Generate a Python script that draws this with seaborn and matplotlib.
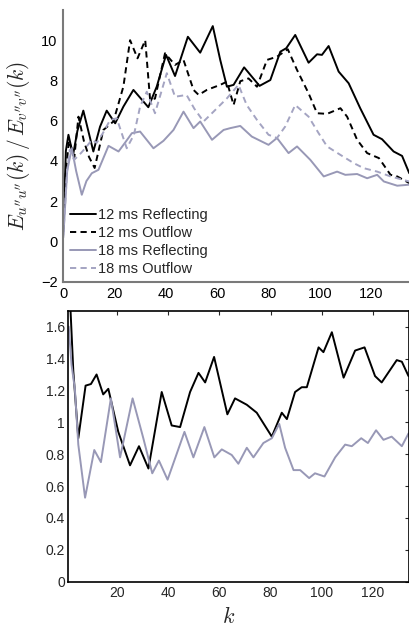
import numpy as np
import pandas as pd
import matplotlib
matplotlib.use("Agg")
import matplotlib.pyplot as plt
import seaborn as sns

# ---------------- data ----------------
labels = ["12 ms Reflecting", "12 ms Outflow", "18 ms Reflecting", "18 ms Outflow"]

# top panel: E_u''u''(k)/E_v''v''(k)
k12r = [0, 1, 2, 3.8, 5.5, 7.8, 11.7, 14.3, 16.9, 20.2, 23.4, 27.3, 33.1, 36.4, 40.0, 43.5,
        48.5, 53.3, 58.2, 61.1, 63.7, 66.3, 70.4, 76.4, 80.6, 84.5, 86.8, 90.3, 95.5, 98.8,
        100.7, 103.3, 107.2, 111.1, 115.6, 120.8, 124.1, 128.6, 131.9, 134.7]
v12r = [0.5, 4.5, 5.3, 4.3, 5.5, 6.5, 4.47, 5.7, 6.5, 5.87, 6.7, 7.53, 6.67, 7.7, 9.27, 8.22,
        10.17, 9.38, 10.7, 9.02, 7.69, 7.78, 8.65, 7.73, 8.02, 9.43, 9.6, 10.26, 8.88, 9.3,
        9.27, 9.71, 8.44, 7.86, 6.62, 5.3, 5.08, 4.47, 4.25, 3.39]

k12o = [0, 1, 2.2, 4.3, 5.9, 8, 10, 12.2, 15.6, 19.5, 23.4, 26.0, 28.9, 31.9, 33.8, 35.7,
        39.6, 43.5, 46.8, 50.7, 52.7, 55.9, 61.1, 63.7, 66.3, 68.9, 72.1, 75.4, 79.3, 83.2,
        87.4, 91.0, 95.5, 98.8, 102.7, 107.9, 110.5, 114.4, 118.3, 122.9, 127.4, 130, 134.7]
v12o = [1.0, 3.5, 5.0, 4.2, 6.2, 5.0, 4.2, 3.65, 5.54, 5.96, 7.7, 10.0, 9.1, 10.0, 7.03, 7.1,
        9.35, 8.77, 9.02, 7.53, 7.28, 7.53, 7.78, 7.94, 6.78, 7.96, 8.1, 7.69, 9.02, 9.18,
        9.55, 8.52, 7.36, 6.37, 6.34, 6.62, 6.2, 5.05, 4.39, 4.14, 3.31, 3.23, 2.9]

k18r = [0, 1.5, 3.3, 5, 7.2, 9, 11.1, 13.7, 17.6, 21.5, 24, 26.7, 29.9, 35.1, 39, 42.9,
        46.8, 50.7, 53.3, 57.9, 62.4, 65, 68.9, 73.4, 79.9, 83.2, 87.7, 91, 96.2, 101.4,
        106.6, 109.8, 114.4, 118.3, 122.2, 124.8, 130, 134.7]
v18r = [0.2, 3.5, 4.63, 3.5, 2.32, 3.0, 3.39, 3.56, 4.75, 4.47, 4.9, 5.38, 5.46, 4.63, 5.0, 5.54,
        6.45, 5.63, 5.96, 5.05, 5.54, 5.63, 5.74, 5.21, 4.8, 5.14, 4.39, 4.72, 4.05, 3.23,
        3.47, 3.31, 3.35, 3.14, 3.31, 2.98, 2.77, 2.82]

k18o = [0, 1.5, 2.5, 4.2, 6.8, 9, 11.1, 13, 15.5, 18.2, 20.8, 24.7, 27.5, 29.9, 32.5, 35.7,
        40.3, 43.5, 48, 51, 54.6, 58.5, 63.7, 68.2, 71.4, 75.4, 79.9, 83.2, 86.4, 90.3, 95.5,
        99.4, 102.7, 107.9, 113.1, 117, 122.2, 127.4, 134.7]
v18o = [0.3, 3.5, 4.55, 4.05, 4.38, 4.7, 5.05, 4.9, 5.4, 6.03, 6.12, 4.63, 5.3, 6.7, 7.44, 6.37,
        8.36, 7.19, 7.28, 6.6, 5.96, 6.45, 7.11, 7.78, 6.78, 6.04, 5.3, 5.14, 5.71, 6.78, 6.2,
        5.38, 4.72, 4.3, 3.89, 3.64, 3.47, 3.23, 2.98]

# bottom panel: ratio
kb12 = [1, 2.8, 4.75, 7.6, 9.7, 11.9, 14.5, 16.5, 20.4, 25.0, 28.5, 32.2, 37.4, 41.3, 44.6,
        48.5, 51.8, 54.4, 57.9, 63.1, 66.1, 70.7, 74.6, 80.5, 84.4, 86.4, 89.6, 92.2, 94.2,
        98.8, 100.7, 104, 108.6, 113.1, 116.8, 120.9, 123.5, 129.4, 131.4, 134]
vb12 = [1.95, 1.32, 0.9, 1.23, 1.24, 1.30, 1.175, 1.21, 0.94, 0.73, 0.85, 0.71, 1.19, 0.98, 0.97,
        1.19, 1.31, 1.25, 1.41, 1.05, 1.15, 1.11, 1.06, 0.91, 1.06, 1.02, 1.19, 1.22, 1.22,
        1.47, 1.44, 1.565, 1.28, 1.45, 1.47, 1.29, 1.25, 1.39, 1.38, 1.29]

kb18 = [1, 2.1, 3.4, 4.75, 7.4, 11.0, 13.6, 17.5, 21.1, 26.0, 30.2, 33.7, 36.3, 39.7, 46.3,
        49.8, 54.1, 58.0, 60.9, 64.8, 67.4, 70.7, 73.3, 77.2, 80.5, 83.4, 85.7, 89.0, 91.6,
        95.1, 97.4, 101.1, 105.3, 109.2, 111.8, 115.5, 118.1, 121.3, 124.2, 127.4, 131.4, 134]
vb18 = [1.6, 1.36, 1.21, 0.86, 0.527, 0.826, 0.75, 1.15, 0.78, 1.15, 0.9, 0.68, 0.76, 0.64, 0.94,
        0.78, 0.97, 0.78, 0.83, 0.795, 0.74, 0.84, 0.78, 0.87, 0.9, 0.99, 0.84, 0.70, 0.70,
        0.65, 0.68, 0.66, 0.78, 0.86, 0.85, 0.9, 0.87, 0.95, 0.89, 0.91, 0.85, 0.93]

top_xticks = [0, 20, 40, 60, 80, 100, 120]
top_yticks = [-2, 0, 2, 4, 6, 8, 10]
bot_xticks = [20, 40, 60, 80, 100, 120]
bot_yticks = [0, 0.2, 0.4, 0.6, 0.8, 1.0, 1.2, 1.4, 1.6]
bot_yticklabels = ["0", "0.2", "0.4", "0.6", "0.8", "1", "1.2", "1.4", "1.6"]

# ---------------- style ----------------
sns.set_theme(style="white")
plt.rcParams["font.family"] = ["Liberation Sans", "DejaVu Sans"]
plt.rcParams["mathtext.fontset"] = "cm"

BLACK = "#000000"
GRAY = "#9898b6"
GRAY_D = "#a4a4c2"
palette = {labels[0]: BLACK, labels[1]: BLACK, labels[2]: GRAY, labels[3]: GRAY_D}
dashes = {labels[0]: "", labels[1]: (3.2, 2.2), labels[2]: "", labels[3]: (3.2, 2.2)}

top_df = pd.concat([
    pd.DataFrame({"k": k12r, "v": v12r, "series": labels[0]}),
    pd.DataFrame({"k": k12o, "v": v12o, "series": labels[1]}),
    pd.DataFrame({"k": k18r, "v": v18r, "series": labels[2]}),
    pd.DataFrame({"k": k18o, "v": v18o, "series": labels[3]}),
], ignore_index=True)

bot_df = pd.concat([
    pd.DataFrame({"k": kb12, "v": vb12, "series": "12 ms"}),
    pd.DataFrame({"k": kb18, "v": vb18, "series": "18 ms"}),
], ignore_index=True)

W, H = 409, 628
fig = plt.figure(figsize=(W / 100, H / 100), dpi=100)

ax1 = fig.add_axes([63.3 / W, 1 - 281.7 / H, (408.5 - 63.3) / W, (281.7 - 10) / H])
ax2 = fig.add_axes([67.7 / W, 1 - 581.7 / H, (408.5 - 67.7) / W, (581.7 - 310.7) / H])

# ---- top panel ----
sns.lineplot(data=top_df, x="k", y="v", hue="series", style="series",
             palette=palette, dashes=dashes, hue_order=labels, style_order=labels,
             estimator=None, sort=True, linewidth=1.4, ax=ax1)
ax1.set_xlim(0, 134.4)
ax1.set_ylim(-2, 11.5)
ax1.set_xticks(top_xticks)
ax1.set_yticks(top_yticks)
ax1.set_xlabel("")
ax1.set_ylabel(r"$E_{u''u''}(k)\,/\,E_{v''v''}(k)$", fontsize=15.5)
ax1.yaxis.set_label_coords(-0.09, 0.5)
for s in ["top", "right"]:
    ax1.spines[s].set_visible(False)
for s in ["left", "bottom"]:
    ax1.spines[s].set_color("#7a7a7a")
    ax1.spines[s].set_linewidth(1.5)
ax1.tick_params(direction="in", length=3, width=1, color="#7a7a7a",
                labelsize=10.5, labelcolor="black", pad=4)

h, l = ax1.get_legend_handles_labels()
ax1.legend(h, l, loc="lower left", bbox_to_anchor=(0.02, 0.02), frameon=False,
           fontsize=10.5, handlelength=1.75, handletextpad=0.15, labelspacing=0.28,
           borderpad=0, borderaxespad=0)

# ---- bottom panel ----
sns.lineplot(data=bot_df, x="k", y="v", hue="series",
             palette={"12 ms": BLACK, "18 ms": GRAY},
             estimator=None, sort=True, linewidth=1.4, ax=ax2, legend=False)
ax2.set_xlim(0.6, 134.0)
ax2.set_ylim(0, 1.7)
ax2.set_xticks(bot_xticks)
ax2.set_yticks(bot_yticks)
ax2.set_yticklabels(bot_yticklabels)
ax2.set_ylabel("")
ax2.set_xlabel(r"$k$", fontsize=16)
ax2.xaxis.set_label_coords(0.473, -0.093)
for s in ax2.spines.values():
    s.set_color("black")
    s.set_linewidth(1.2)
    s.set_visible(True)
ax2.tick_params(direction="in", length=3, width=0.8, top=True, right=True,
                labelsize=10, pad=3)
ax2.tick_params(axis="y", pad=2)

fig.savefig("out.png", dpi=100)
